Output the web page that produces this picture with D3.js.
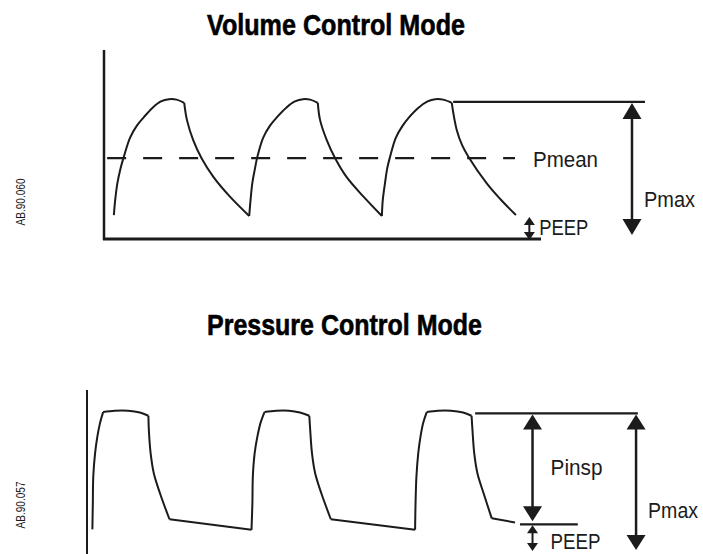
<!DOCTYPE html>
<html>
<head>
<meta charset="utf-8">
<script src="https://cdn.jsdelivr.net/npm/d3@7"></script>
<style>
  html, body { margin: 0; padding: 0; background: #fff; }
  svg { display: block; }
</style>
</head>
<body>
<svg id="chart" width="703" height="554"></svg>
<script>
// ---------- data: airway pressure (cmH2O) against time (s) ----------
// Volume control: one stroke per inspiration / expiration
const volumeStrokes = [
  [[0.22,5.2],[0.25,8.5],[0.30,12.2],[0.37,15.4],[0.44,17.8],[0.58,22.0],[0.73,24.6],[0.89,26.5],[1.08,28.5],[1.27,29.9],[1.45,30.4],[1.62,30.3],[1.79,29.6]],
  [[1.79,29.6],[1.85,25.9],[1.99,21.5],[2.18,17.5],[2.44,13.5],[2.81,9.2],[3.24,5.0]],
  [[3.24,5.0],[3.27,8.5],[3.31,12.2],[3.37,15.4],[3.42,17.8],[3.55,22.0],[3.70,24.6],[3.86,26.5],[4.06,28.5],[4.26,29.9],[4.44,30.4],[4.60,30.3],[4.77,29.6]],
  [[4.77,29.6],[4.82,25.9],[4.97,21.5],[5.16,17.5],[5.41,13.5],[5.79,9.2],[6.20,5.0]],
  [[6.20,5.0],[6.22,8.5],[6.27,12.2],[6.32,15.4],[6.38,17.8],[6.51,22.0],[6.66,24.6],[6.81,26.5],[7.01,28.5],[7.22,29.9],[7.39,30.4],[7.57,30.3],[7.76,29.6]],
  [[7.76,29.6],[7.79,27.6],[7.87,23.7],[7.99,20.4],[8.13,17.9],[8.54,12.1],[8.84,8.7],[9.19,5.2]]
];
const volumePmean = 17.6;
const volumePmax = 29.8;
const volumePeep = 5.0;
const volumePmeanSpan = [0.07, 9.17];   // extent of the dashed mean line (s)
const volumePmaxSpan = [7.79, 12.07];   // extent of the peak reference line (s)
const volumePmaxArrowT = 11.78;
const volumePeepArrowT = 9.49;
const volumeTimeMax = 9.75;
const volumeAxisTop = 41.1;

// Pressure control: rise, plateau, release, expiratory decay per breath
const pressureStrokes = [
  [[0.12,4.7],[0.13,10.4],[0.14,16.2],[0.18,21.2],[0.23,24.8],[0.29,27.8],[0.36,30.2]],
  [[0.36,30.2],[0.62,30.5],[0.92,30.5],[1.18,30.1],[1.37,29.4]],
  [[1.37,29.4],[1.38,26.3],[1.42,21.2],[1.49,16.9],[1.63,12.5],[1.84,6.9]],
  [[1.84,6.9],[3.67,4.6]],
  [[3.67,4.6],[3.69,10.4],[3.70,16.2],[3.74,21.2],[3.80,24.8],[3.87,27.8],[3.96,30.2]],
  [[3.96,30.2],[4.22,30.5],[4.51,30.5],[4.75,30.1],[4.96,29.4]],
  [[4.96,29.4],[4.98,26.3],[5.02,21.2],[5.09,16.9],[5.23,12.5],[5.44,6.9]],
  [[5.44,6.9],[7.32,4.6]],
  [[7.32,4.6],[7.33,10.4],[7.35,16.2],[7.39,21.2],[7.44,24.8],[7.50,27.8],[7.58,30.2]],
  [[7.58,30.2],[7.83,30.5],[8.12,30.5],[8.39,30.1],[8.58,29.4]],
  [[8.58,29.4],[8.60,26.3],[8.64,21.2],[8.71,16.9],[8.85,12.5],[9.03,7.1]],
  [[9.03,7.1],[9.55,6.2]]
];
const pressurePmax = 29.9;
const pressurePeep = 5.8;
const pressurePmaxSpan = [8.66, 12.29];
const pressurePeepSpan = [9.66, 10.95];
const pressurePinspArrowT = 9.94;
const pressurePmaxArrowT = 12.25;
const pressureAxisRange = [-1, 35];

const titles = ["Volume Control Mode", "Pressure Control Mode"];
const figureCodes = ["AB.90.060", "AB.90.057"];
const labels = { pmean: "Pmean", pmax: "Pmax", peep: "PEEP", pinsp: "Pinsp" };

// ---------- drawing ----------
const ink = "#1b1b1b";
const labelFont = "'Liberation Sans Narrow', 'Liberation Sans', Arial, sans-serif";
const svg = d3.select("#chart");

const xTop = d3.scaleLinear().domain([0, 9.75]).range([104, 541]);
const yTop = d3.scaleLinear().domain([0, 40]).range([239, 55]);
const xBot = d3.scaleLinear().domain([0, 12.3]).range([87, 638.3]);
const yBot = d3.scaleLinear().domain([0, 36]).range([551, 385.4]);

function trace(g, strokes, x, y) {
  const line = d3.line().x(d => x(d[0])).y(d => y(d[1])).curve(d3.curveCatmullRom.alpha(0.5));
  g.selectAll("path.trace").data(strokes).join("path")
    .attr("class", "trace")
    .attr("d", line)
    .attr("fill", "none").attr("stroke", ink)
    .attr("stroke-width", 2).attr("stroke-linejoin", "round");
}

function hline(g, x0, x1, yy, w) {
  g.append("line").attr("x1", x0).attr("x2", x1).attr("y1", yy).attr("y2", yy)
    .attr("stroke", ink).attr("stroke-width", w);
}

// vertical double-headed arrow from ya (top) to yb (bottom)
function arrow(g, xx, ya, yb, hw, hh, sw) {
  g.append("line").attr("x1", xx).attr("x2", xx).attr("y1", ya + hh - 1).attr("y2", yb - hh + 1)
    .attr("stroke", ink).attr("stroke-width", sw);
  const tri = (tip, dir) => `M${xx},${tip}L${xx - hw / 2},${tip + dir * hh}L${xx + hw / 2},${tip + dir * hh}Z`;
  g.append("path").attr("d", tri(ya, 1)).attr("fill", ink);
  g.append("path").attr("d", tri(yb, -1)).attr("fill", ink);
}

function label(g, text, xx, yy, width, size) {
  g.append("text").attr("x", xx).attr("y", yy)
    .attr("font-family", labelFont).attr("font-size", size)
    .attr("fill", ink)
    .attr("textLength", width).attr("lengthAdjust", "spacingAndGlyphs")
    .text(text);
}

// titles
[[titles[0], 35, 258], [titles[1], 335, 275]].forEach(([t, yy, w]) => {
  svg.append("text").attr("x", 207).attr("y", yy)
    .attr("font-family", labelFont).attr("font-weight", "bold").attr("font-size", 30)
    .attr("fill", "#000").attr("stroke", "#000").attr("stroke-width", 0.6)
    .attr("textLength", w).attr("lengthAdjust", "spacingAndGlyphs")
    .text(t);
});

// figure codes, written vertically along the left margin
[[figureCodes[0], 202], [figureCodes[1], 505]].forEach(([t, cy]) => {
  svg.append("text")
    .attr("transform", `translate(25,${cy}) rotate(-90)`)
    .attr("text-anchor", "middle")
    .attr("font-family", "'Liberation Sans', Arial, sans-serif").attr("font-size", 12)
    .attr("fill", ink)
    .attr("textLength", 47).attr("lengthAdjust", "spacingAndGlyphs")
    .text(t);
});

// ----- volume control panel -----
const gTop = svg.append("g");
gTop.append("line").attr("x1", xTop(0)).attr("x2", xTop(0))
  .attr("y1", yTop(volumeAxisTop)).attr("y2", yTop(0) + 1)
  .attr("stroke", ink).attr("stroke-width", 2.5);
hline(gTop, xTop(0) - 1, xTop(volumeTimeMax), yTop(0), 3);

gTop.append("line")
  .attr("x1", xTop(volumePmeanSpan[0])).attr("x2", xTop(volumePmeanSpan[1]))
  .attr("y1", yTop(volumePmean)).attr("y2", yTop(volumePmean))
  .attr("stroke", ink).attr("stroke-width", 2.2).attr("stroke-dasharray", "19,17");

trace(gTop, volumeStrokes, xTop, yTop);

hline(gTop, xTop(volumePmaxSpan[0]), xTop(volumePmaxSpan[1]), yTop(volumePmax), 2.2);
arrow(gTop, xTop(volumePmaxArrowT), yTop(volumePmax) + 1, yTop(0) - 4, 19, 16, 2.5);
arrow(gTop, xTop(volumePeepArrowT), yTop(volumePeep) + 1, yTop(0) + 1, 11, 8, 2);

label(gTop, labels.pmean, xTop(volumePmeanSpan[1]) + 18, yTop(volumePmean) + 9, 65, 21.5);
label(gTop, labels.pmax, xTop(volumePmaxArrowT) + 12, yTop(0) - 32, 51, 21.5);
label(gTop, labels.peep, xTop(volumePeepArrowT) + 10, yTop(0) - 4, 49, 21.5);

// ----- pressure control panel -----
const gBot = svg.append("g");
gBot.append("line").attr("x1", xBot(0)).attr("x2", xBot(0))
  .attr("y1", yBot(pressureAxisRange[1])).attr("y2", yBot(pressureAxisRange[0]))
  .attr("stroke", ink).attr("stroke-width", 2);

trace(gBot, pressureStrokes, xBot, yBot);

hline(gBot, xBot(pressurePmaxSpan[0]), xBot(pressurePmaxSpan[1]), yBot(pressurePmax), 2.2);
hline(gBot, xBot(pressurePeepSpan[0]), xBot(pressurePeepSpan[1]), yBot(pressurePeep), 2.2);
arrow(gBot, xBot(pressurePinspArrowT), yBot(pressurePmax) + 1, yBot(pressurePeep) - 3, 19, 15, 2.5);
arrow(gBot, xBot(pressurePinspArrowT), yBot(pressurePeep) + 1, yBot(0), 11, 8, 2);
arrow(gBot, xBot(pressurePmaxArrowT), yBot(pressurePmax) + 1, yBot(0) - 1, 19, 15, 2.5);

label(gBot, labels.pinsp, xBot(pressurePinspArrowT) + 18, (yBot(pressurePmax) + yBot(pressurePeep)) / 2 + 6, 52, 21.5);
label(gBot, labels.peep, xBot(pressurePinspArrowT) + 18, yBot(0) - 2, 50, 21.5);
label(gBot, labels.pmax, xBot(pressurePmaxArrowT) + 12, yBot(0) - 33, 50, 21.5);
</script>
</body>
</html>
